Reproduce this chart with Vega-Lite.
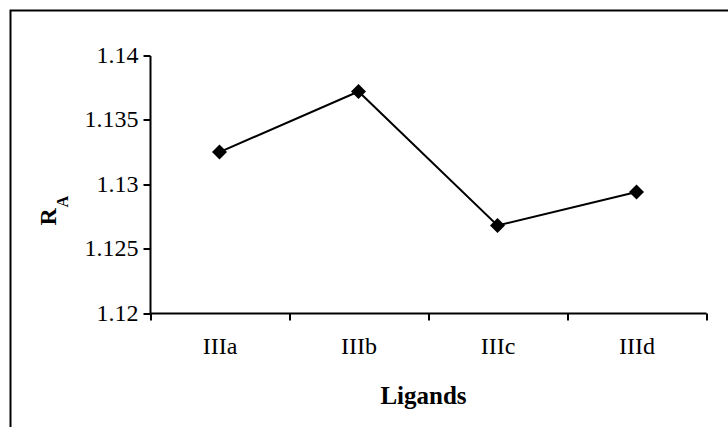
{
  "$schema": "https://vega.github.io/schema/vega-lite/v6.json",
  "width": 730,
  "height": 430,
  "autosize": {"type": "none"},
  "padding": {"left": 10.5, "top": 10.5, "right": -12.5, "bottom": -13.5},
  "background": "white",
  "config": {"view": {"stroke": "black", "strokeWidth": 2, "fill": "white"}, "font": "Liberation Serif"},
  "data": {"values": [
    {"ligand": "IIIa", "ra": 1.1325},
    {"ligand": "IIIb", "ra": 1.1372},
    {"ligand": "IIIc", "ra": 1.1268},
    {"ligand": "IIId", "ra": 1.1294}
  ]},
  "layer": [
    {
      "mark": {"type": "line", "color": "black", "strokeWidth": 2},
      "encoding": {
        "x": {"field": "ligand", "type": "nominal", "sort": null,
          "scale": {"type": "band", "paddingInner": 0, "paddingOuter": 0, "range": [139.5, 695.5]},
          "axis": {"orient": "bottom", "offset": -127.5, "labelAngle": 0, "tickBand": "extent", "tickSize": 7, "tickWidth": 2, "tickColor": "black",
            "domainColor": "black", "domainWidth": 2, "labelFont": "Liberation Serif", "labelFontSize": 24,
            "labelColor": "black", "labelPadding": 14, "grid": false,
            "title": "Ligands", "titleFont": "Liberation Serif", "titleFontSize": 25, "titleFontWeight": "bold",
            "titleColor": "black", "titleX": 412.5, "titleY": 90, "titleBaseline": "alphabetic", "titleAlign": "center"}},
        "y": {"field": "ra", "type": "quantitative",
          "scale": {"domain": [1.12, 1.14], "zero": false, "nice": false, "range": [302.5, 45]},
          "axis": {"orient": "left", "offset": -139.5, "values": [1.12, 1.125, 1.13, 1.135, 1.14], "format": ".3~f",
            "tickSize": 7, "tickWidth": 2, "tickColor": "black", "domainColor": "black", "domainWidth": 2,
            "labelFont": "Liberation Serif", "labelFontSize": 24, "labelColor": "black", "labelPadding": 5, "grid": false,
            "title": "R", "titleFont": "Liberation Serif", "titleFontSize": 24, "titleFontWeight": "bold",
            "titleColor": "black", "titleAngle": -90, "titleX": -95, "titleY": 214.5, "titleAlign": "left", "titleBaseline": "alphabetic"}}
      }
    },
    {
      "mark": {"type": "point", "shape": "diamond", "filled": true, "color": "black", "size": 225, "opacity": 1},
      "encoding": {
        "x": {"field": "ligand", "type": "nominal", "sort": null},
        "y": {"field": "ra", "type": "quantitative",
          "axis": {"orient": "left", "offset": -139.5, "labels": false, "ticks": false, "domain": false, "grid": false,
            "title": "A", "titleFont": "Liberation Serif", "titleFontSize": 16, "titleFontWeight": "bold",
            "titleColor": "black", "titleAngle": -90, "titleX": -83, "titleY": 196.5, "titleAlign": "left", "titleBaseline": "alphabetic"}}
      }
    }
  ],
  "resolve": {"axis": {"y": "independent"}}
}
